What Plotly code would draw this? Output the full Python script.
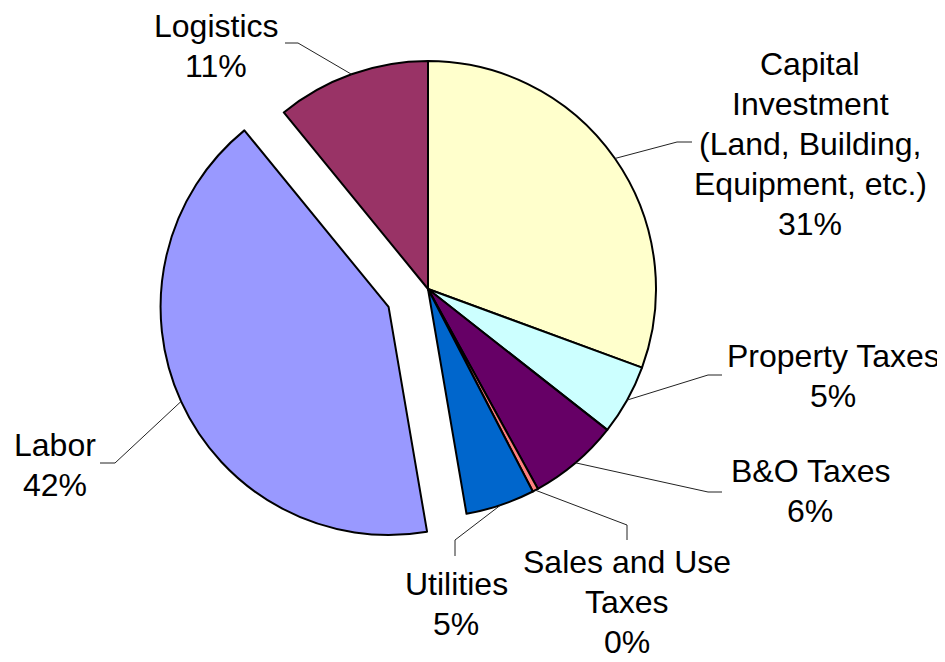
import math
import plotly.graph_objects as go

# slices, clockwise from 12 o'clock
labels = ["Capital Investment (Land, Building, Equipment, etc.)", "Property Taxes",
          "B&O Taxes", "Sales and Use Taxes", "Utilities", "Labor", "Logistics"]
values = [30.6, 5.0, 6.4, 0.4, 4.9, 41.8, 10.9]
colors = ["#FFFFCC", "#CCFFFF", "#660066", "#FF8080", "#0066CC", "#9999FF", "#993366"]
pulls = [0, 0, 0, 0, 0, 0.19, 0]
label_lines = [["Capital", "Investment", "(Land, Building,", "Equipment, etc.)"],
               ["Property Taxes"], ["B&O Taxes"], ["Sales and Use", "Taxes"],
               ["Utilities"], ["Labor"], ["Logistics"]]

# page body has an 8px margin, so the figure is sized to fit the window
OFF = 8
W, H = 945 - OFF, 662 - OFF
CX, CY, R = 428, 289, 228  # pie centre / radius, window pixels
half = R * (1 + max(pulls))
FONT = 32
PITCH = 40

# label block centres and leader elbows (window pixels)
label_pos = [(810, 144), (833, 376), (810, 491), (627, 602), (456, 604), (55, 465), (216, 46)]
elbows = [((677, 142), (692, 142)), ((708, 375), (722, 375)), ((708, 492), (722, 492)),
          ((627, 525), (627, 540)), ((455, 540), (455, 556)), ((115, 463), (100, 463)),
          ((298, 43), (285, 43))]


def px(x):
    return (x - OFF) / W


def py(y):
    return 1 - (y - OFF) / H


fig = go.Figure(go.Pie(
    labels=labels, values=values, sort=False, direction="clockwise", rotation=0,
    pull=pulls, textinfo="none", hoverinfo="label+percent",
    marker=dict(colors=colors, line=dict(color="black", width=2)),
    domain=dict(x=[px(CX - half), px(CX + half)], y=[py(CY + half), py(CY - half)]),
))

total = sum(values)
cum = 0
annotations, shapes = [], []
for i, v in enumerate(values):
    theta = math.radians(360 * (cum + v / 2) / total)
    cum += v
    rr = R * (1 + pulls[i])
    x0, y0 = CX + rr * math.sin(theta), CY - rr * math.cos(theta)
    (x1, y1), (x2, y2) = elbows[i]
    shapes.append(dict(type="path", xref="paper", yref="paper",
                       path=f"M {px(x0)},{py(y0)} L {px(x1)},{py(y1)} L {px(x2)},{py(y2)}",
                       line=dict(color="#222", width=1)))
    lines = label_lines[i] + [f"{round(100 * v / total)}%"]
    lx, ly = label_pos[i]
    n = len(lines)
    for k, line in enumerate(lines):
        yk = ly + (k - (n - 1) / 2) * PITCH
        annotations.append(dict(x=px(lx), y=py(yk), xref="paper", yref="paper", text=line,
                                showarrow=False, xanchor="center", yanchor="middle",
                                font=dict(size=FONT, color="black",
                                          family="Liberation Sans, Arial")))

fig.update_layout(width=W, height=H, margin=dict(l=0, r=0, t=0, b=0),
                  paper_bgcolor="white", showlegend=False,
                  annotations=annotations, shapes=shapes)
fig.write_html("out.html")
